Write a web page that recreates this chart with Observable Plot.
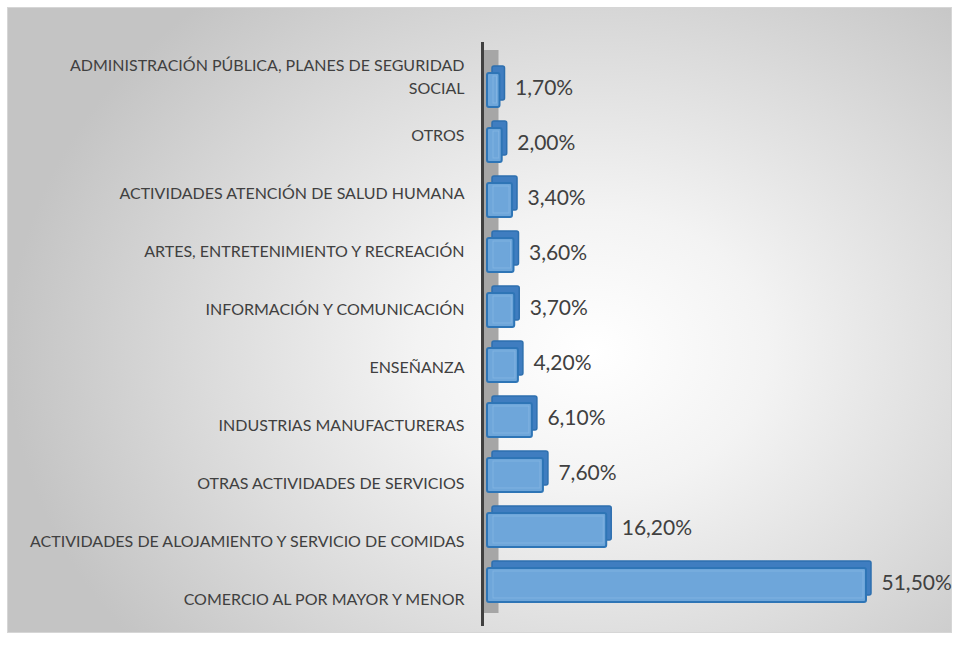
<!DOCTYPE html>
<html>
<head>
<meta charset="utf-8">
<script src="https://cdn.jsdelivr.net/npm/d3@7"></script>
<script src="https://cdn.jsdelivr.net/npm/@observablehq/plot@0.6"></script>
<style>
  html, body { margin: 0; padding: 0; background: #ffffff; }
  #wrap { position: relative; width: 959px; height: 658px; overflow: hidden; }
  #bg {
    position: absolute; left: 7px; top: 7px; width: 943px; height: 624px;
    border: 1px solid #d6d6d6;
    background: radial-gradient(ellipse 62% 75% at 62% 55%, #ffffff 0%, #f3f3f3 30%, #dcdcdc 65%, #c4c4c4 100%);
  }
  .layer { position: absolute; left: 0; top: 0; }
</style>
</head>
<body>
<div id="wrap"><div id="bg"></div><div id="bars" class="layer"></div><div id="labels" class="layer"></div></div>
<script>
const categories = [
  "ADMINISTRACIÓN PÚBLICA, PLANES DE SEGURIDAD\nSOCIAL",
  "OTROS",
  "ACTIVIDADES ATENCIÓN DE SALUD HUMANA",
  "ARTES, ENTRETENIMIENTO Y RECREACIÓN",
  "INFORMACIÓN Y COMUNICACIÓN",
  "ENSEÑANZA",
  "INDUSTRIAS MANUFACTURERAS",
  "OTRAS ACTIVIDADES DE SERVICIOS",
  "ACTIVIDADES DE ALOJAMIENTO Y SERVICIO DE COMIDAS",
  "COMERCIO AL POR MAYOR Y MENOR"
];
const values = [1.7, 2.0, 3.4, 3.6, 3.7, 4.2, 6.1, 7.6, 16.2, 51.5];
const valueLabels = ["1,70%", "2,00%", "3,40%", "3,60%", "3,70%", "4,20%", "6,10%", "7,60%", "16,20%", "51,50%"];

const data = categories.map((c, i) => ({cat: c, value: values[i], label: valueLabels[i]}));

const font = "Lato, 'Open Sans', sans-serif";
const common = {
  width: 959,
  height: 658,
  marginLeft: 487,
  marginRight: 93,
  style: {background: "transparent", fontFamily: font, overflow: "visible"},
  x: {domain: [0, 51.5], axis: null}
};

// Bars (back plane of the 3D chart)
const barsPlot = Plot.plot({
  ...common,
  marginTop: 69,
  marginBottom: 51,
  y: {domain: categories, axis: null, paddingInner: 0.374, paddingOuter: 0},
  marks: [
    // 3D wall behind the axis
    Plot.ruleX([0], {stroke: "#a6a6a6", strokeWidth: 16, dx: 3, insetTop: -19, insetBottom: -6}),
    // axis line
    Plot.ruleX([0], {stroke: "#404040", strokeWidth: 3, dx: -5, insetTop: -27, insetBottom: -19}),
    // back / top face of bars
    Plot.barX(data, {x: "value", y: "cat", fill: "#3f7dc0", stroke: "#2e6fae", strokeWidth: 1.5, dx: 5, dy: -7, rx: 2}),
    // front face
    Plot.barX(data, {x: "value", y: "cat", fill: "#6ea6da", stroke: "#2e75b6", strokeWidth: 2, rx: 2}),
    // inner highlight
    Plot.barX(data, {x: "value", y: "cat", fill: "none", stroke: "#8dbbe6", strokeWidth: 1, insetLeft: 6, insetRight: 3, insetTop: 3, insetBottom: 4, strokeOpacity: 0.6}),
    // value labels
    Plot.text(data, {x: "value", y: "cat", text: "label", textAnchor: "start", dx: 15, dy: -2, fontSize: 21, fill: "#404040"})
  ]
});
document.getElementById("bars").appendChild(barsPlot);

// Category labels (front plane of the 3D chart)
const labelsPlot = Plot.plot({
  ...common,
  marginTop: 75,
  marginBottom: 61,
  y: {type: "point", domain: categories, axis: null, padding: 0},
  marks: [
    Plot.text(data, {x: 0, y: "cat", text: "cat", textAnchor: "end", dx: -23, lineHeight: 1.44, fontSize: 16, fill: "#404040"})
  ]
});
document.getElementById("labels").appendChild(labelsPlot);
</script>
</body>
</html>
